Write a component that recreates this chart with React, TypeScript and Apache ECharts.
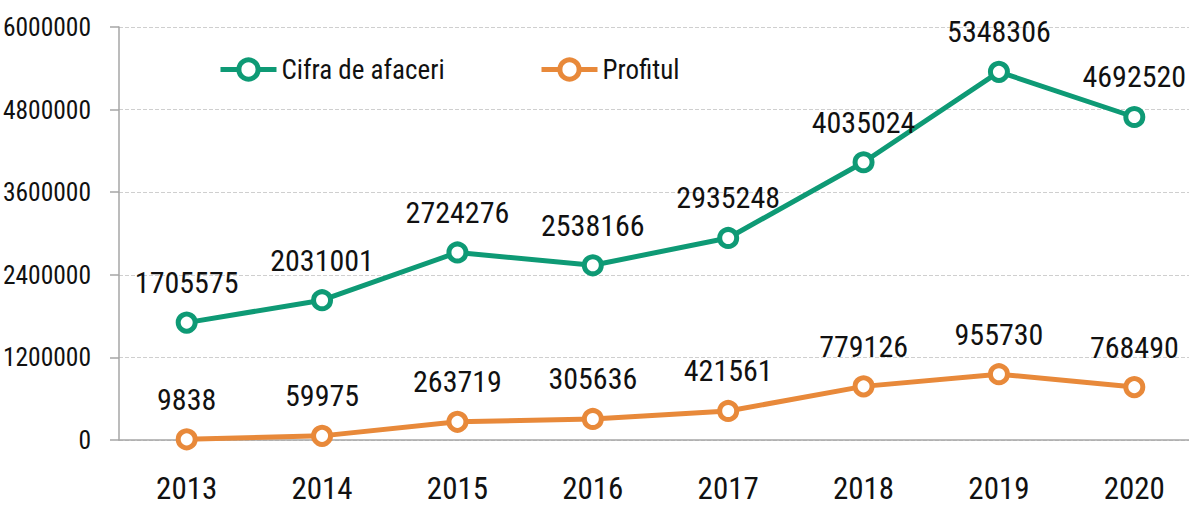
import React, { useEffect, useRef } from "react";
import * as echarts from "echarts";

const years = ["2013", "2014", "2015", "2016", "2017", "2018", "2019", "2020"];
const cifraDeAfaceri = [1705575, 2031001, 2724276, 2538166, 2935248, 4035024, 5348306, 4692520];
const profitul = [9838, 59975, 263719, 305636, 421561, 779126, 955730, 768490];
const yTicks = { min: 0, max: 6000000, interval: 1200000 };

const FONT = "Roboto";
const GREEN = "#0E9A75";
const ORANGE = "#E8893A";

export default function App() {
  const ref = useRef<HTMLDivElement>(null);
  useEffect(() => {
    if (!ref.current) return;
    const chart = echarts.init(ref.current, null, { renderer: "svg" });
    const mkSeries = (name: string, data: number[], color: string) => ({
      name,
      type: "line",
      data,
      symbol: "circle",
      symbolSize: 17,
      showAllSymbol: true,
      lineStyle: { color, width: 5 },
      itemStyle: { color: "#ffffff", borderColor: color, borderWidth: 5 },
      label: {
        show: true,
        position: "top",
        distance: 14,
        color: "#111",
        fontFamily: FONT,
        fontSize: 30,
      },
      emphasis: { disabled: true },
    });
    const legendBase = {
      top: 56,
      padding: 0,
      itemWidth: 56,
      itemHeight: 24,
      itemGap: 5,
      textStyle: { fontFamily: FONT, fontSize: 27, color: "#111" },
      lineStyle: { width: 5 },
      itemStyle: { borderWidth: 5 },
    };
    chart.setOption({
      animation: false,
      textStyle: { fontFamily: FONT },
      grid: { left: 119, right: 0, top: 27, bottom: 66, containLabel: false, outerBoundsMode: "none" },
      legend: [
        { ...legendBase, left: 218, data: ["Cifra de afaceri"] },
        { ...legendBase, left: 539, data: ["Profitul"] },
      ],
      xAxis: {
        type: "category",
        data: years,
        boundaryGap: true,
        axisLine: { lineStyle: { color: "#a6a6a6", width: 1.5 } },
        axisTick: { show: false },
        axisLabel: { fontFamily: FONT, fontSize: 31, color: "#111", margin: 33 },
      },
      yAxis: {
        type: "value",
        min: yTicks.min,
        max: yTicks.max,
        interval: yTicks.interval,
        axisLine: { show: true, lineStyle: { color: "#a6a6a6", width: 1.5 } },
        axisTick: { show: true, length: 9, lineStyle: { color: "#a6a6a6", width: 1.5 } },
        splitLine: { lineStyle: { color: "#cfcfcf", type: "dashed", width: 1 } },
        axisLabel: { fontFamily: FONT, fontSize: 25.5, color: "#111", margin: 28, formatter: (v: number) => String(v) },
      },
      series: [
        mkSeries("Cifra de afaceri", cifraDeAfaceri, GREEN),
        mkSeries("Profitul", profitul, ORANGE),
      ],
    });
    return () => chart.dispose();
  }, []);
  return (
    <div
      ref={ref}
      style={{ position: "fixed", left: 0, top: 0, width: 1202, height: 506, background: "#fff", fontStretch: "condensed" }}
    />
  );
}
